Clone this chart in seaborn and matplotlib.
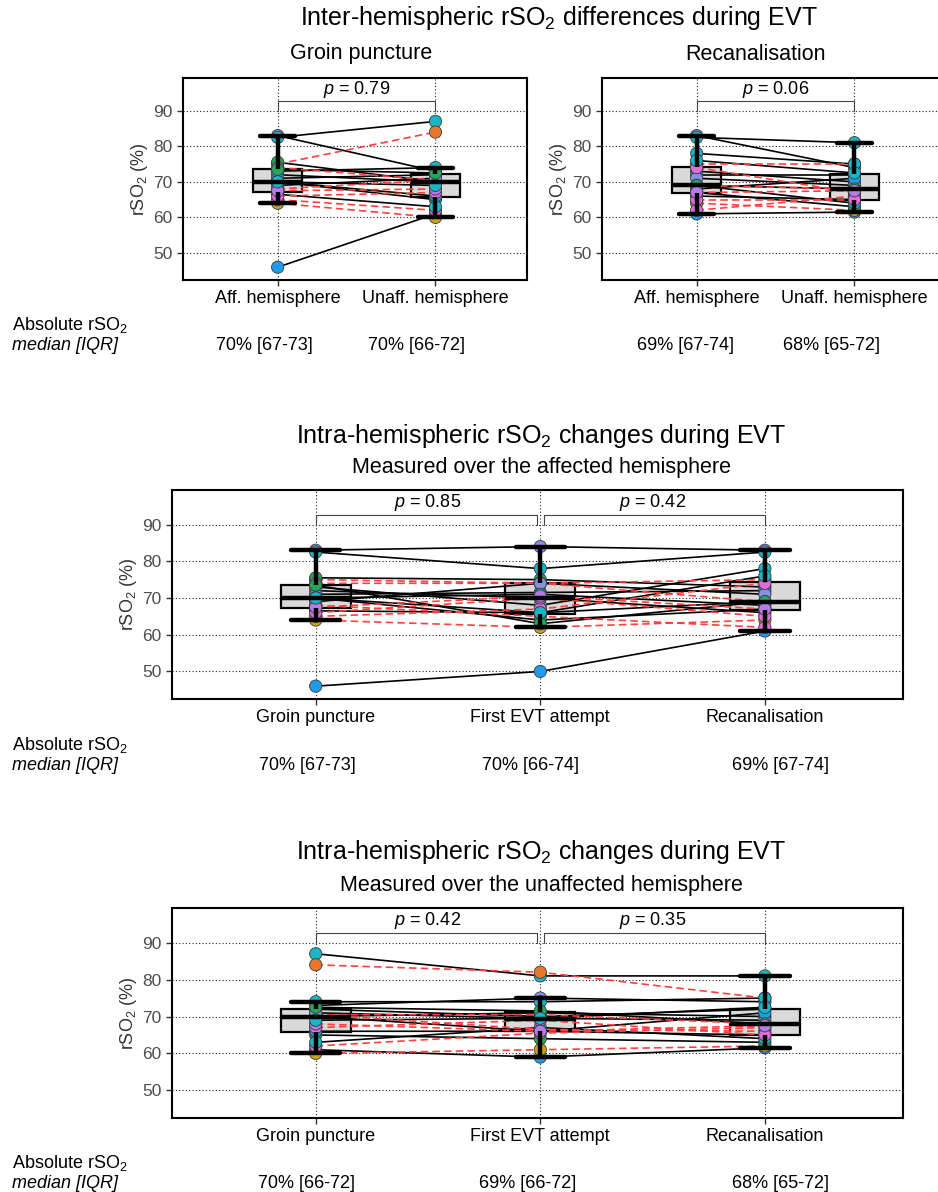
import matplotlib
matplotlib.use("Agg")
import matplotlib.pyplot as plt
import seaborn as sns
import pandas as pd

sns.set_theme(style="white")
plt.rcParams['font.family'] = ['Liberation Sans', 'DejaVu Sans']
plt.rcParams['text.color'] = 'black'
plt.rcParams['mathtext.fontset'] = 'custom'
plt.rcParams['mathtext.rm'] = 'Liberation Sans'
plt.rcParams['mathtext.it'] = 'Liberation Sans:italic'

# per-patient rSO2 values (approximate)
patients = ["P%d" % i for i in range(1, 21)]
patient_colors = ["#1f9bea", "#8790e6", "#19b6c6", "#e8772c", "#c9a01a",
                  "#22a85a", "#e36be0", "#19b6c6", "#e36be0", "#1f9bea",
                  "#e36be0", "#22a85a", "#8790e6", "#e36be0", "#19b6c6",
                  "#1f9bea", "#e36be0", "#22a85a", "#b77be8", "#19b6c6"]
dashed = [False, False, False, True, True, False, True, False, False, False,
          True, False, False, True, False, False, True, False, True, False]

aff_groin = [46, 83, 82.5, 75, 64, 75.5, 74, 73, 72, 71,
             68, 70, 69, 65, 66.5, 70, 66, 73.5, 67.5, 70]
aff_first = [50, 84, 78, 74, 62, 75, 74, 68, 70, 71.5,
             65, 64, 74, 67, 66, 71, 70, 63, 70.5, 66]
aff_recan = [61, 83, 82.5, 75, 64, 73, 69, 78, 66, 72,
             62, 67, 71, 74, 69, 68, 65, 69, 67, 76]
unaff_groin = [61, 73, 87, 84, 60, 70, 70.5, 74, 70, 72,
               70.5, 65, 71, 62, 63, 66, 67, 72.5, 68, 69]
unaff_first = [59, 75, 81, 82, 61, 71, 70.5, 74, 66, 70,
               66.5, 64, 69.5, 65.5, 67, 66, 69, 71.5, 66, 69.5]
unaff_recan = [61.5, 74, 81, 75, 62, 70, 68, 75, 65, 72,
               66, 63, 69, 67, 64, 71, 65, 68, 67.5, 72.5]

hemi_labels = ["Aff. hemisphere", "Unaff. hemisphere"]
phase_labels = ["Groin puncture", "First EVT attempt", "Recanalisation"]

p_groin = ["0.79"]
p_recan = ["0.06"]
p_aff = ["0.85", "0.42"]
p_unaff = ["0.42", "0.35"]

med_groin = ["70% [67-73]", "70% [66-72]"]
med_recan = ["69% [67-74]", "68% [65-72]"]
med_aff = ["70% [67-73]", "70% [66-74]", "69% [67-74]"]
med_unaff = ["70% [66-72]", "69% [66-72]", "68% [65-72]"]

W, H = 938, 1192
RSO2 = r"rSO$_\mathregular{2}$"


def make_long(series):
	rows = []
	for pos, vals in enumerate(series):
		for p, v, d in zip(patients, vals, dashed):
			rows.append({"patient": p, "pos": pos, "value": v,
						 "group": "dashed" if d else "solid"})
	return pd.DataFrame(rows)


def draw_panel(ax, series, labels, pvals, xlim, ylim):
	df = make_long(series)
	sns.boxplot(data=df, x="pos", y="value", ax=ax, color="#d9d9d9",
				linecolor="black", linewidth=1.6, width=0.31, showfliers=False,
				saturation=1, whiskerprops=dict(linewidth=3.2),
				capprops=dict(linewidth=3.2), medianprops=dict(linewidth=3.2))
	box_lines = list(ax.lines)
	sns.lineplot(data=df, x="pos", y="value", units="patient", estimator=None,
				 hue="group", palette={"solid": "black", "dashed": "#ff4040"},
				 style="group", dashes={"solid": "", "dashed": (4.5, 2.5)},
				 linewidth=1.2, legend=False, ax=ax, zorder=3)
	sns.scatterplot(data=df, x="pos", y="value", hue="patient",
					palette=dict(zip(patients, patient_colors)), s=78,
					edgecolor="#3a3a3a", linewidth=0.6, legend=False, ax=ax,
					zorder=4)
	for ln in box_lines:
		ln.set_zorder(5)
		x = ln.get_xdata()
		y = ln.get_ydata()
		# widen the caps a little
		if len(x) == 2 and y[0] == y[1] and abs(x[1] - x[0]) < 0.2:
			c = (x[0] + x[1]) / 2
			ln.set_xdata([c - 0.11, c + 0.11])

	# p-value brackets
	for i, p in enumerate(pvals):
		x0 = i + (0.015 if i > 0 else 0)
		x1 = i + 1 - (0.015 if len(pvals) > 1 and i == 0 else 0)
		ax.plot([x0, x0, x1, x1], [90, 92.6, 92.6, 90], color="#444444",
				lw=0.8, zorder=2)
		ax.text(i + 0.5, 95.9, "$p$ = " + p, ha="center", va="center",
				fontsize=13, color="black")

	ax.set_xlim(*xlim)
	ax.set_ylim(*ylim)
	ax.set_xticks(range(len(labels)))
	ax.set_xticklabels(labels, fontsize=13, color="black")
	ax.set_yticks([50, 60, 70, 80, 90])
	ax.tick_params(axis="y", labelsize=12.5, labelcolor="#4d4d4d",
				   length=4, width=1, color="#333333", left=True)
	ax.tick_params(axis="x", length=4, width=1, color="#333333", bottom=True)
	ax.grid(True, axis="both", color="#222222", linestyle=(0, (1, 2)),
			linewidth=0.8)
	ax.set_axisbelow(True)
	ax.set_xlabel("")
	ax.set_ylabel(RSO2 + " (%)", fontsize=13, color="#333333", labelpad=2)
	for s in ax.spines.values():
		s.set_color("black")
		s.set_linewidth(1.5)


def ftext(x, y, s, **kw):
	fig.text(x / W, 1 - y / H, s, va="center", color="black", **kw)


fig = plt.figure(figsize=(W / 100, H / 100), dpi=100)

ax1 = fig.add_axes([183 / W, 1 - 280 / H, 344 / W, 202 / H])
ax2 = fig.add_axes([602 / W, 1 - 280 / H, 344 / W, 202 / H])
ax3 = fig.add_axes([172 / W, 1 - 699 / H, 731 / W, 209 / H])
ax4 = fig.add_axes([172 / W, 1 - 1118 / H, 731 / W, 210 / H])

draw_panel(ax1, [aff_groin, unaff_groin], hemi_labels, p_groin,
		   (-0.6, 1.58), (42.4, 99.2))
draw_panel(ax2, [aff_recan, unaff_recan], hemi_labels, p_recan,
		   (-0.6, 1.58), (42.4, 99.2))
draw_panel(ax3, [aff_groin, aff_first, aff_recan], phase_labels, p_aff,
		   (-0.64, 2.615), (42.5, 99.4))
draw_panel(ax4, [unaff_groin, unaff_first, unaff_recan], phase_labels, p_unaff,
		   (-0.64, 2.615), (42.5, 99.4))

# titles
ftext(559, 18, "Inter-hemispheric " + RSO2 + " differences during EVT",
	  ha="center", fontsize=18)
ftext(361, 54, "Groin puncture", ha="center", fontsize=15.5)
ftext(755, 54, "Recanalisation", ha="center", fontsize=15.5)
ftext(541, 436, "Intra-hemispheric " + RSO2 + " changes during EVT",
	  ha="center", fontsize=18)
ftext(541, 467, "Measured over the affected hemisphere", ha="center",
	  fontsize=15.5)
ftext(541, 852, "Intra-hemispheric " + RSO2 + " changes during EVT",
	  ha="center", fontsize=18)
ftext(541, 886, "Measured over the unaffected hemisphere", ha="center",
	  fontsize=15.5)

# absolute rSO2 rows
for y0, meds, xs in [(325, med_groin + med_recan, [264, 416, 685, 831]),
					 (745, med_aff, [307, 530, 780]),
					 (1163, med_unaff, [307, 528, 780])]:
	ftext(12, y0, "Absolute " + RSO2, ha="left", fontsize=13)
	ftext(12, y0 + 21, "median [IQR]", ha="left", fontsize=13,
		  fontstyle="italic")
	for x, m in zip(xs, meds):
		ftext(x, y0 + 21, m, ha="center", fontsize=13)

fig.savefig("out.png", dpi=100)
